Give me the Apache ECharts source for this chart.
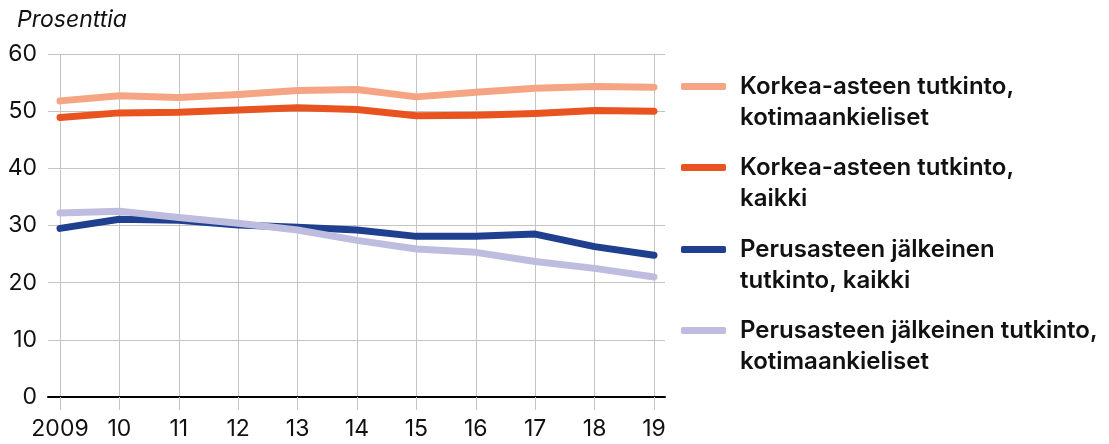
<!DOCTYPE html>
<html>
<head>
<meta charset="utf-8">
<script src="https://cdn.jsdelivr.net/npm/echarts@6/dist/echarts.min.js"></script>
<style>
html,body{margin:0;padding:0;background:#fff;}
#chart{width:1109px;height:444px;}
</style>
</head>
<body>
<div id="chart"></div>
<script>
const years = ['2009','10','11','12','13','14','15','16','17','18','19'];
const yTicks = [0, 10, 20, 30, 40, 50, 60];
const seriesNames = [
  'Korkea-asteen tutkinto,\nkotimaankieliset',
  'Korkea-asteen tutkinto,\nkaikki',
  'Perusasteen jälkeinen\ntutkinto, kaikki',
  'Perusasteen jälkeinen tutkinto,\nkotimaankieliset'
];
const korkeaKotimaan = [51.8, 52.7, 52.4, 52.9, 53.6, 53.8, 52.5, 53.3, 54.0, 54.3, 54.2];
const korkeaKaikki   = [48.9, 49.7, 49.8, 50.2, 50.6, 50.3, 49.2, 49.3, 49.6, 50.1, 50.0];
const perusKaikki    = [29.5, 31.1, 30.9, 30.1, 29.7, 29.2, 28.1, 28.1, 28.5, 26.3, 24.8];
const perusKotimaan  = [32.2, 32.5, 31.4, 30.4, 29.2, 27.4, 25.9, 25.3, 23.7, 22.5, 21.0];
const colors = ['#F5A583', '#E8531F', '#1F3F8F', '#BEBDDF'];
const valuesList = [korkeaKotimaan, korkeaKaikki, perusKaikki, perusKotimaan];

const FONT = 'Inter, "Noto Sans", sans-serif';
const chart = echarts.init(document.getElementById('chart'), null, {renderer: 'canvas'});

const legendTops = [40, 121, 203, 284];
const legends = seriesNames.map((n, i) => ({
  show: true,
  data: [n],
  orient: 'vertical',
  left: 681,
  top: legendTops[i],
  padding: 0,
  icon: 'roundRect',
  itemWidth: 45,
  itemHeight: 7,
  selectedMode: false,
  formatter: name => ' \n' + name,
  textStyle: {
    fontFamily: FONT,
    fontSize: 24,
    fontWeight: 600,
    color: '#111',
    lineHeight: 31,
    padding: [0, 0, 0, 9]
  }
}));

chart.setOption({
  animation: false,
  backgroundColor: '#fff',
  title: {
    text: 'Prosenttia',
    left: 12,
    top: 4,
    textStyle: {fontFamily: FONT, fontSize: 23, fontStyle: 'italic', fontWeight: 400, color: '#111'}
  },
  legend: legends,
  grid: [
    {left: 48, right: 444, top: 54, bottom: 47, containLabel: false},
    {left: 60, right: 455, top: 54, bottom: 47, containLabel: false}
  ],
  xAxis: [
    {
      gridIndex: 0, type: 'category', data: years, boundaryGap: false,
      axisLine: {show: true, onZero: true, lineStyle: {color: '#000', width: 2}},
      axisTick: {show: false}, axisLabel: {show: false}, splitLine: {show: false}
    },
    {
      gridIndex: 1, type: 'category', data: years, boundaryGap: false,
      axisLine: {show: false},
      axisTick: {show: true, interval: 0, length: 13, lineStyle: {color: '#c4c4c4', width: 1}},
      axisLabel: {show: true, interval: 0, margin: 21, fontFamily: FONT, fontSize: 23, color: '#111'},
      splitLine: {show: true, interval: 0, lineStyle: {color: '#c4c4c4', width: 1}}
    }
  ],
  yAxis: [
    {
      gridIndex: 0, type: 'value', min: yTicks[0], max: yTicks[yTicks.length - 1], interval: 10,
      axisLine: {show: false}, axisTick: {show: false},
      axisLabel: {show: true, margin: 11, fontFamily: FONT, fontSize: 23, color: '#111'},
      splitLine: {show: true, lineStyle: {color: '#c4c4c4', width: 1}}
    },
    {
      gridIndex: 1, type: 'value', min: yTicks[0], max: yTicks[yTicks.length - 1], interval: 10,
      axisLine: {show: false}, axisTick: {show: false}, axisLabel: {show: false},
      splitLine: {show: false}
    }
  ],
  series: seriesNames.map((n, i) => ({
    name: n,
    type: 'line',
    xAxisIndex: 1,
    yAxisIndex: 1,
    data: valuesList[i],
    symbol: 'none',
    color: colors[i],
    lineStyle: {width: 7, color: colors[i], cap: 'round', join: 'round'},
    z: 3 + i
  }))
});
</script>
</body>
</html>
